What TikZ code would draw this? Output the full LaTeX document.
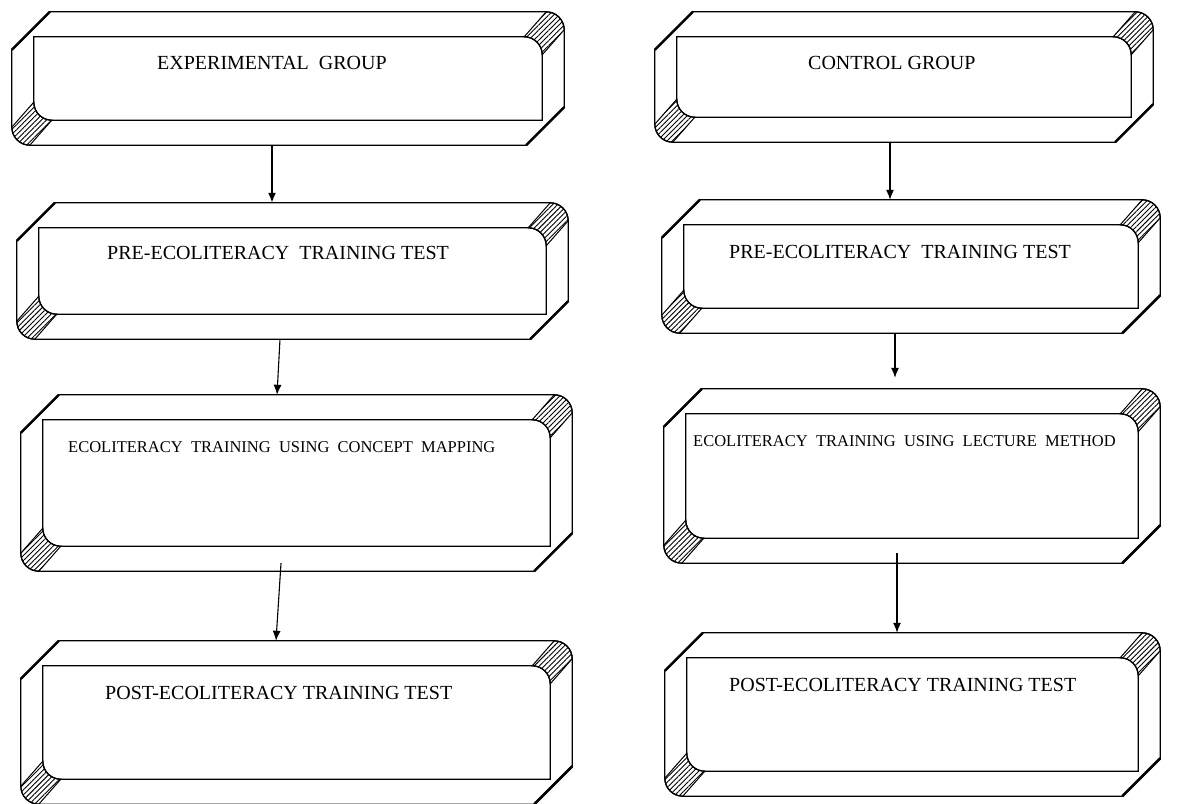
\documentclass[tikz,border=0pt]{standalone}
\usepackage{fontspec}
\setmainfont{Liberation Serif}
\usetikzlibrary{arrows.meta,patterns.meta}

\newcommand{\bandw}{22}
\newcommand{\bandh}{25}
\newcommand{\crad}{18}
\newcommand{\ccut}{38}

\tikzset{
  panel/.style={rectangle, inner sep=0pt},
  rim/.style={line width=1.3pt},
  hatch/.style={line width=1pt, pattern={Lines[angle=45,distance=3.6pt,line width=0.9pt]}},
  cut/.style={line width=2.6pt},
  flow/.style={-{Latex[length=10pt,width=8pt]}, line width=1.1pt},
  caption/.style={inner sep=0pt, anchor=west, font=\fontsize{20}{24}\selectfont},
  smallcap/.style={caption, font=\fontsize{16.5}{20}\selectfont}
}

% bevelled frame round a panel node
\newcommand{\bevelframe}[1]{%
  \draw[hatch] ([xshift=-\crad]#1.north east) arc[start angle=90,end angle=0,radius=\crad]
    -- ([shift={(-\bandw,-\bandh-\crad)}]#1.north east) arc[start angle=0,end angle=90,radius=\crad] -- cycle;
  \draw[hatch] ([xshift=\crad]#1.south west) arc[start angle=270,end angle=180,radius=\crad]
    -- ([shift={(\bandw,\bandh+\crad)}]#1.south west) arc[start angle=180,end angle=270,radius=\crad] -- cycle;
  \draw[rim] ([yshift=-\ccut]#1.north west) -- ([xshift=\ccut]#1.north west)
    -- ([xshift=-\crad]#1.north east) arc[start angle=90,end angle=0,radius=\crad]
    -- ([yshift=\ccut]#1.south east) -- ([xshift=-\ccut]#1.south east)
    -- ([xshift=\crad]#1.south west) arc[start angle=270,end angle=180,radius=\crad]
    -- cycle;
  \draw[rim] ([shift={(\bandw,-\bandh)}]#1.north west)
    -- ([shift={(-\bandw-\crad,-\bandh)}]#1.north east) arc[start angle=90,end angle=0,radius=\crad]
    -- ([shift={(-\bandw,\bandh)}]#1.south east)
    -- ([shift={(\bandw+\crad,\bandh)}]#1.south west) arc[start angle=270,end angle=180,radius=\crad]
    -- cycle;
  \draw[cut] ([yshift=-\ccut]#1.north west) -- ([xshift=\ccut]#1.north west);
  \draw[cut] ([yshift=\ccut]#1.south east) -- ([xshift=-\ccut]#1.south east);
}

\begin{document}
\begin{tikzpicture}[x=1pt,y=1pt]
\useasboundingbox (0,0) rectangle (1182,803);

% experimental group
\node[panel, minimum width=552, minimum height=133] (exp) at (288,724.5) {};
\node[panel, minimum width=551, minimum height=136] (expPre) at (292.5,532) {};
\node[panel, minimum width=551, minimum height=176] (expTrain) at (296.5,320) {};
\node[panel, minimum width=551, minimum height=163] (expPost) at (296.5,80.5) {};

% control group
\node[panel, minimum width=498, minimum height=130] (ctl) at (904,726) {};
\node[panel, minimum width=498, minimum height=133] (ctlPre) at (911,536.5) {};
\node[panel, minimum width=496, minimum height=174] (ctlTrain) at (912,327) {};
\node[panel, minimum width=495, minimum height=163] (ctlPost) at (912.5,88.5) {};

\bevelframe{exp}
\bevelframe{expPre}
\bevelframe{expTrain}
\bevelframe{expPost}
\bevelframe{ctl}
\bevelframe{ctlPre}
\bevelframe{ctlTrain}
\bevelframe{ctlPost}

\node[caption] (expT) at (157,740) {EXPERIMENTAL\ \ GROUP};
\node[caption] (expPreT) at (107,550) {PRE-ECOLITERACY\ \ TRAINING TEST};
\node[smallcap] (expTrainT) at (68,356) {ECOLITERACY\ \ TRAINING\ \ USING\ \ CONCEPT\ \ MAPPING};
\node[caption] (expPostT) at (105,110) {POST-ECOLITERACY TRAINING TEST};

\node[caption] (ctlT) at (808,740) {CONTROL GROUP};
\node[caption] (ctlPreT) at (729,551) {PRE-ECOLITERACY\ \ TRAINING TEST};
\node[smallcap] (ctlTrainT) at (693,362) {ECOLITERACY\ \ TRAINING\ \ USING\ \ LECTURE\ \ METHOD};
\node[caption] (ctlPostT) at (729,118) {POST-ECOLITERACY TRAINING TEST};

\draw[flow, line width=1.6pt] ([xshift=-16]exp.south) -- ([xshift=-20.5]expPre.north);
\draw[flow] ([xshift=-12.5]expPre.south) -- ([xshift=-19.5]expTrain.north);
\draw[flow] ([shift={(-15.5,8)}]expTrain.south) -- ([xshift=-20.5]expPost.north);

\draw[flow] ([xshift=-14]ctl.south) -- ([xshift=-21]ctlPre.north);
\draw[flow] ([xshift=-16]ctlPre.south) -- ([shift={(-17,11)}]ctlTrain.north);
\draw[flow] ([shift={(-15,10)}]ctlTrain.south) -- ([xshift=-15.5]ctlPost.north);
\end{tikzpicture}
\end{document}
